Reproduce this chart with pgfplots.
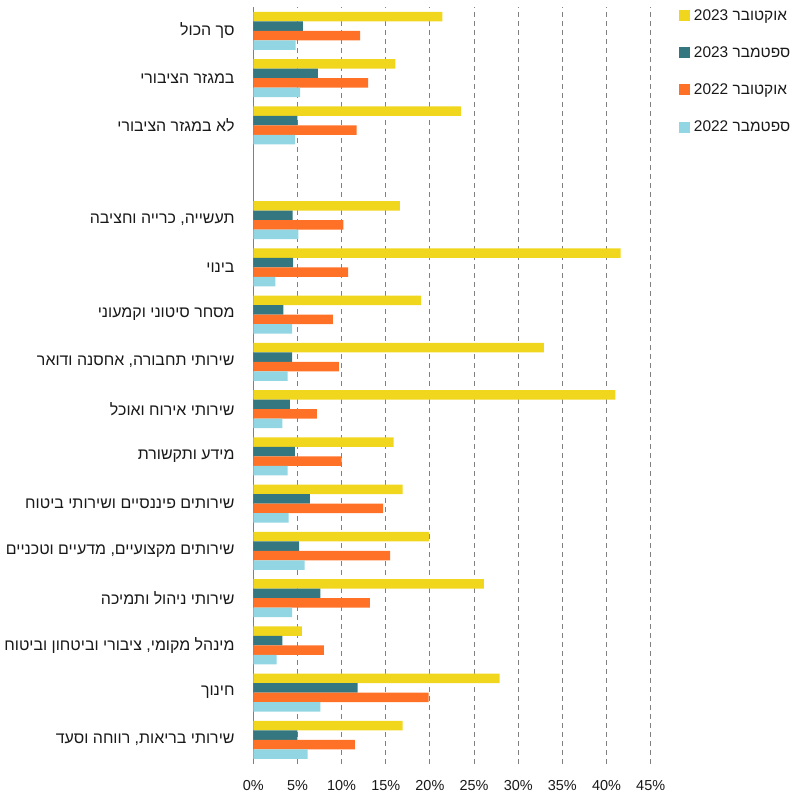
\documentclass[border=0pt]{standalone}
\usepackage{fontspec}
\setmainfont{Liberation Sans}
\newfontfamily\heb[Script=Hebrew]{Liberation Sans}
\TeXXeTstate=1
\usepackage{pgfplots}
\pgfplotsset{compat=1.18}

\definecolor{cyel}{RGB}{240,215,30}
\definecolor{cteal}{RGB}{53,119,128}
\definecolor{cora}{RGB}{255,113,38}
\definecolor{clbl}{RGB}{146,214,227}

\begin{document}
\begin{tikzpicture}
\begin{axis}[
    xbar,
    scale only axis,
    width=397.4bp, height=756.3bp,
    xmin=0, xmax=45,
    ymin=-0.5, ymax=15.5,
    bar width=9.5bp,
    axis lines*=left,
    x axis line style={draw=none},
    y axis line style={draw=gray, line width=1bp},
    tick style={draw=none},
    xtick={0,5,...,45},
    xmajorgrids,
    major grid style={dashed, gray, line width=0.9bp, dash pattern=on 5bp off 4bp},
    xticklabel={\pgfmathprintnumber{\tick}\%},
    /pgf/number format/assume math mode=true,
    xticklabel style={yshift=-13bp, font=\fontsize{14.5}{17}\selectfont},
    ytick={0,...,11,13,14,15},
    yticklabels={
      {\heb\beginR שירותי בריאות, רווחה וסעד\endR},
      {\heb\beginR חינוך\endR},
      {\heb\beginR מינהל מקומי, ציבורי וביטחון וביטוח לאומי\endR},
      {\heb\beginR שירותי ניהול ותמיכה\endR},
      {\heb\beginR שירותים מקצועיים, מדעיים וטכניים\endR},
      {\heb\beginR שירותים פיננסיים ושירותי ביטוח\endR},
      {\heb\beginR מידע ותקשורת\endR},
      {\heb\beginR שירותי אירוח ואוכל\endR},
      {\heb\beginR שירותי תחבורה, אחסנה ודואר\endR},
      {\heb\beginR מסחר סיטוני וקמעוני\endR},
      {\heb\beginR בינוי\endR},
      {\heb\beginR תעשייה, כרייה וחציבה\endR},
      {\heb\beginR לא במגזר הציבורי\endR},
      {\heb\beginR במגזר הציבורי\endR},
      {\heb\beginR סך הכול\endR}},
    yticklabel style={anchor=east, xshift=-11bp, font=\fontsize{16}{19}\selectfont},
    ticklabel style={text=black!90},
    legend cell align=left,
    legend style={draw=none, fill=none, at={(rel axis cs:1.0712,1.0)}, anchor=north west,
      font=\fontsize{15.5}{18}\selectfont, row sep=21bp, inner sep=0pt, outer sep=0pt,
      nodes={inner xsep=4bp, text=black!90}},
    legend image code/.code={\fill[#1] (0bp,-5.5bp) rectangle (11bp,5.5bp);},
]
\addplot[fill=cyel, draw=none, bar shift=14.25bp] coordinates {
  (21.4,15) (16.1,14) (23.5,13)
  (16.6,11) (41.6,10) (19.0,9) (32.9,8) (41.0,7) (15.9,6)
  (16.9,5) (19.9,4) (26.1,3) (5.5,2) (27.9,1) (16.9,0)};
\addlegendentry{\heb\beginR אוקטובר \beginL2023\endL\endR}
\addplot[fill=cteal, draw=none, bar shift=4.75bp] coordinates {
  (5.6,15) (7.3,14) (5.0,13)
  (4.45,11) (4.5,10) (3.4,9) (4.4,8) (4.15,7) (4.7,6)
  (6.4,5) (5.2,4) (7.6,3) (3.3,2) (11.8,1) (5.0,0)};
\addlegendentry{\heb\beginR ספטמבר \beginL2023\endL\endR}
\addplot[fill=cora, draw=none, bar shift=-4.75bp] coordinates {
  (12.1,15) (13.0,14) (11.7,13)
  (10.2,11) (10.75,10) (9.0,9) (9.7,8) (7.2,7) (10.0,6)
  (14.7,5) (15.5,4) (13.2,3) (8.0,2) (19.85,1) (11.5,0)};
\addlegendentry{\heb\beginR אוקטובר \beginL2022\endL\endR}
\addplot[fill=clbl, draw=none, bar shift=-14.25bp] coordinates {
  (4.8,15) (5.3,14) (4.75,13)
  (5.1,11) (2.5,10) (4.4,9) (3.9,8) (3.3,7) (3.9,6)
  (4.0,5) (5.8,4) (4.4,3) (2.65,2) (7.6,1) (6.15,0)};
\addlegendentry{\heb\beginR ספטמבר \beginL2022\endL\endR}
\end{axis}
\pgfresetboundingbox
\path[use as bounding box] (-253.3bp,-31.4bp) rectangle (538.7bp,763.6bp);
\end{tikzpicture}
\end{document}
